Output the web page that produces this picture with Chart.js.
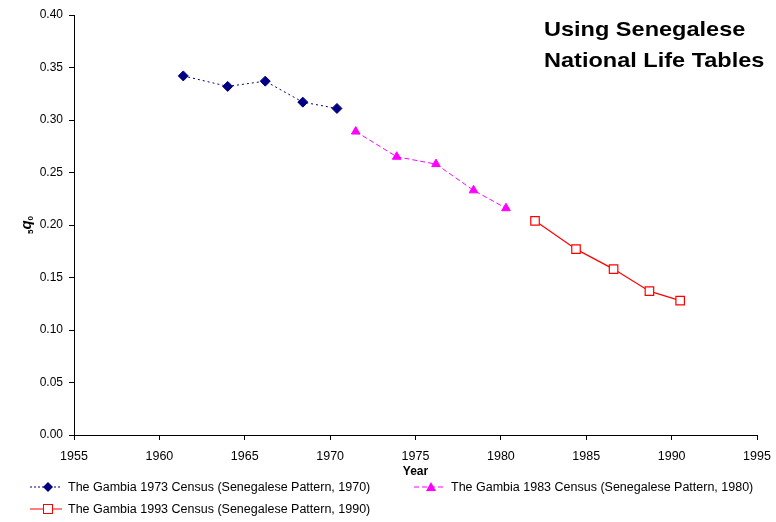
<!DOCTYPE html>
<html>
<head>
<meta charset="utf-8">
<script src="https://cdn.jsdelivr.net/npm/chart.js@4"></script>
<style>
  body { margin: 0; background: #fff; font-family: Arial, "Liberation Sans", sans-serif; }
  #wrap { position: relative; width: 776px; height: 522px; }
  #wrap canvas { position: absolute; left: 0; top: 0; }
  .note { position: absolute; left: 544px; top: 13px; font-size: 21px; font-weight: bold; line-height: 31px; color: #000; transform: scaleX(1.12); transform-origin: left top; }
  .ytitle { position: absolute; left: 6px; top: 216px; width: 40px; text-align: center; transform: rotate(-90deg); font-size: 12px; font-weight: bold; }
  .ytitle i { font-size: 15px; }
  .ytitle sub { font-size: 8px; vertical-align: -2px; }
  .legend { position: absolute; font-size: 12.5px; line-height: 14px; color: #000; white-space: nowrap; display: flex; align-items: center; }
  .legend svg { margin-right: 6px; }
</style>
</head>
<body>
<div id="wrap">
  <canvas id="chart" width="776" height="522"></canvas>
  <div class="note">Using Senegalese<br>National Life Tables</div>
  <div class="ytitle"><sub>5</sub><i>q</i><sub>0</sub></div>
  <div class="legend" style="left:30px; top:480px;">
    <svg width="32" height="12"><line x1="0" y1="6" x2="32" y2="6" stroke="#000080" stroke-width="1" stroke-dasharray="2,2"/><polygon points="18,1 23,6 18,11 13,6" fill="#000080"/></svg>The Gambia 1973 Census (Senegalese Pattern, 1970)</div>
  <div class="legend" style="left:414px; top:480px;">
    <svg width="31" height="12"><line x1="0" y1="6" x2="31" y2="6" stroke="#ff00ff" stroke-width="1" stroke-dasharray="5,3"/><polygon points="17,1 22,10 12,10" fill="#ff00ff"/></svg>The Gambia 1983 Census (Senegalese Pattern, 1980)</div>
  <div class="legend" style="left:30px; top:502px;">
    <svg width="32" height="12"><line x1="0" y1="6" x2="32" y2="6" stroke="#ff0000" stroke-width="1"/><rect x="13.5" y="1.5" width="9" height="9" fill="#fff" stroke="#ff0000" stroke-width="1"/></svg>The Gambia 1993 Census (Senegalese Pattern, 1990)</div>
</div>
<script>
const years1970 = [1961.4, 1964.0, 1966.2, 1968.4, 1970.4];
const q0_1970 = [0.342, 0.332, 0.337, 0.317, 0.311];

const years1980 = [1971.5, 1973.9, 1976.2, 1978.4, 1980.3];
const q0_1980 = [0.289, 0.265, 0.258, 0.233, 0.216];

const years1990 = [1982.0, 1984.4, 1986.6, 1988.7, 1990.5];
const q0_1990 = [0.204, 0.177, 0.158, 0.137, 0.128];

const xTicks = [1955, 1960, 1965, 1970, 1975, 1980, 1985, 1990, 1995];
const yTicks = [0, 0.05, 0.1, 0.15, 0.2, 0.25, 0.3, 0.35, 0.4];

const tickFont = { family: 'Arial, "Liberation Sans"', size: 12.5 };
const toPoints = (xs, ys) => xs.map((x, i) => ({ x, y: ys[i] }));

new Chart(document.getElementById('chart'), {
    type: 'line',
    data: {
        datasets: [
            {
                label: 'The Gambia 1973 Census (Senegalese Pattern, 1970)',
                data: toPoints(years1970, q0_1970),
                borderColor: '#000080',
                backgroundColor: '#000080',
                borderWidth: 1,
                borderDash: [2, 3],
                pointStyle: 'rectRot',
                pointRadius: 5,
                tension: 0,
            },
            {
                label: 'The Gambia 1983 Census (Senegalese Pattern, 1980)',
                data: toPoints(years1980, q0_1980),
                borderColor: '#ff00ff',
                backgroundColor: '#ff00ff',
                borderWidth: 1,
                borderDash: [5, 3],
                pointStyle: 'triangle',
                pointRadius: 5,
                tension: 0,
            },
            {
                label: 'The Gambia 1993 Census (Senegalese Pattern, 1990)',
                data: toPoints(years1990, q0_1990),
                borderColor: '#ff0000',
                backgroundColor: '#ffffff',
                pointBorderColor: '#ff0000',
                borderWidth: 1.2,
                pointBorderWidth: 1.2,
                pointStyle: 'rect',
                pointRadius: 6,
                tension: 0,
            },
        ],
    },
    options: {
        responsive: false,
        animation: false,
        layout: { padding: { top: 15, right: 19, left: 0, bottom: 42 } },
        scales: {
            x: {
                type: 'linear',
                min: 1955,
                max: 1995,
                afterBuildTicks: (axis) => { axis.ticks = xTicks.map((v) => ({ value: v })); },
                afterFit: (axis) => { axis.height = 45; axis.paddingLeft = 0; axis.paddingRight = 0; },
                border: { color: '#000', width: 1 },
                grid: { drawOnChartArea: false, drawTicks: true, tickLength: 5, color: '#000' },
                ticks: { color: '#000', font: tickFont, padding: 9, maxRotation: 0, callback: (v) => String(v) },
                title: { display: true, text: 'Year', color: '#000', font: { family: 'Arial, "Liberation Sans"', size: 12, weight: 'bold' }, padding: { top: 0, bottom: 1 } },
            },
            y: {
                min: 0,
                max: 0.4,
                afterBuildTicks: (axis) => { axis.ticks = yTicks.map((v) => ({ value: v })); },
                afterFit: (axis) => { axis.width = 74; axis.paddingTop = 0; axis.paddingBottom = 0; },
                border: { color: '#000', width: 1 },
                grid: { drawOnChartArea: false, drawTicks: true, tickLength: 5, color: '#000' },
                ticks: { color: '#000', font: { family: 'Arial, "Liberation Sans"', size: 12 }, padding: 6, callback: (v) => v.toFixed(2) },
            },
        },
        plugins: {
            legend: { display: false },
            tooltip: { enabled: false },
        },
    },
});
</script>
</body>
</html>
